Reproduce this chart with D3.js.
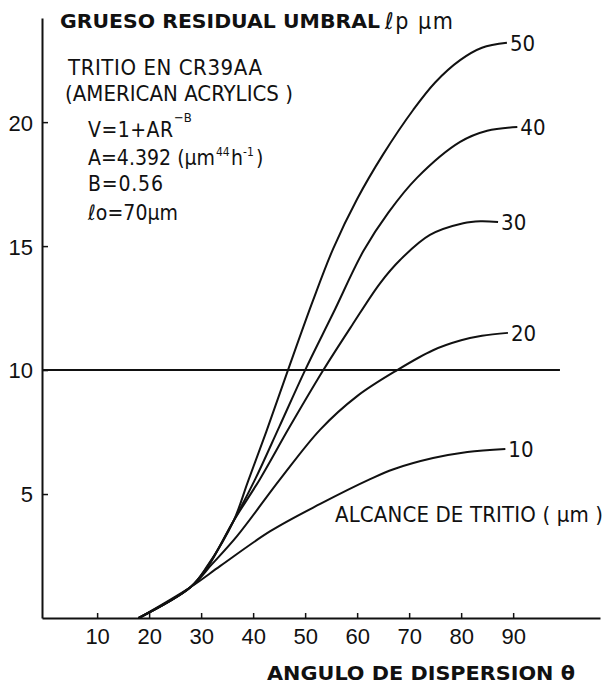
<!DOCTYPE html>
<html>
<head>
<meta charset="utf-8">
<script src="https://cdn.jsdelivr.net/npm/d3@7"></script>
<style>
  body { margin: 0; background: #fff; }
  text { font-family: "Liberation Sans Narrow", "DejaVu Sans Condensed", sans-serif; fill: #111; }
  .bold { font-family: "DejaVu Sans", sans-serif; font-weight: bold; }
</style>
</head>
<body>
<div id="chart"></div>
<script>
// alcance de tritio (um) for each curve
const ranges = [10, 20, 30, 40, 50];

// [theta, residual thickness]
const curve10 = [[18,0],[28,1.25],[33.7,2.1],[43.3,3.5],[52.9,4.6],[62.5,5.6],[67,6.0],[74.6,6.45],[81.2,6.7],[88.5,6.82]];
const curve20 = [[18,0],[28,1.25],[32,2.15],[36.9,3.3],[45.2,5.6],[52.9,7.6],[60,8.95],[67.7,10.0],[74.6,10.8],[80,11.2],[84,11.38],[89,11.5]];
const curve30 = [[18,0],[28,1.25],[31.4,2.1],[36.2,3.9],[41.3,5.6],[47,7.7],[53.5,10.0],[59,11.8],[64.4,13.5],[68.3,14.45],[74,15.45],[80.4,15.92],[83.7,16.0],[87.1,15.97]];
const curve40 = [[18,0],[28,1.25],[31.3,2.1],[36.2,3.9],[40.4,5.6],[45,7.7],[50,10.0],[55.4,12.3],[61.2,14.8],[66,16.35],[71.5,17.75],[79.8,19.2],[85,19.65],[90.8,19.8]];
const curve50 = [[18,0],[28,1.25],[31.2,2.1],[36.2,3.9],[39,5.5],[42.5,7.5],[46.7,10.0],[51.5,12.8],[55.4,14.9],[60,16.9],[65,18.7],[70.8,20.5],[75,21.6],[79.8,22.5],[84,23.0],[88.8,23.2]];

const xTicks = [10, 20, 30, 40, 50, 60, 70, 80, 90];
const yTicks = [5, 10, 15, 20];
const threshold = 10;
const thresholdEnd = 99;

const width = 609, height = 687;

const svg = d3.select('#chart')
  .append('svg')
  .attr('width', width)
  .attr('height', height);

const x = d3.scaleLinear().domain([-0.6, 106.7]).range([42, 600]);
const y = d3.scaleLinear().domain([0, 24.2]).range([618, 18]);

// axes
const xAxis = svg.append('g')
  .attr('transform', 'translate(0,618)')
  .call(d3.axisBottom(x).tickValues(xTicks).tickSizeInner(-5).tickSizeOuter(0).tickPadding(10));

const yAxis = svg.append('g')
  .attr('transform', 'translate(42,0)')
  .call(d3.axisLeft(y).tickValues(yTicks).tickSizeInner(-6).tickSizeOuter(0).tickPadding(9));

svg.selectAll('.domain').attr('stroke', '#111').attr('stroke-width', 2);
svg.selectAll('.tick line').attr('stroke', '#111').attr('stroke-width', 1.5);
svg.selectAll('.tick text').attr('font-size', 22).attr('fill', '#111')
  .style('font-family', '"Liberation Sans Narrow", sans-serif');
yAxis.selectAll('.tick text').attr('dy', '0.36em');

// threshold line
svg.append('line')
  .attr('x1', x(-0.6)).attr('x2', x(thresholdEnd))
  .attr('y1', y(threshold)).attr('y2', y(threshold))
  .attr('stroke', '#111').attr('stroke-width', 2);

// curves
const curves = [curve10, curve20, curve30, curve40, curve50];
const line = d3.line()
  .x(d => x(d[0]))
  .y(d => y(d[1]))
  .curve(d3.curveCatmullRom.alpha(0.5));

svg.append('g')
  .selectAll('path')
  .data(curves)
  .enter().append('path')
  .attr('d', line)
  .attr('fill', 'none')
  .attr('stroke', '#111')
  .attr('stroke-width', 2);

svg.append('g')
  .selectAll('text')
  .data(curves)
  .enter().append('text')
  .attr('x', d => x(d[d.length - 1][0]) + 3)
  .attr('y', d => y(d[d.length - 1][1]))
  .attr('dy', '0.36em')
  .attr('font-size', 22)
  .text((d, i) => ranges[i]);

// titles
svg.append('text').attr('class', 'bold')
  .attr('x', 60).attr('y', 28).attr('font-size', 20)
  .attr('textLength', 320).attr('lengthAdjust', 'spacingAndGlyphs')
  .text('GRUESO RESIDUAL UMBRAL');
svg.append('text').attr('x', 385).attr('y', 29).attr('font-size', 23)
  .attr('textLength', 68).attr('lengthAdjust', 'spacing')
  .text('ℓp μm');

svg.append('text').attr('class', 'bold')
  .attr('x', 267).attr('y', 680).attr('font-size', 19)
  .attr('textLength', 308).attr('lengthAdjust', 'spacingAndGlyphs')
  .text('ANGULO DE DISPERSION θ');

svg.append('text').attr('x', 335).attr('y', 522).attr('font-size', 22)
  .attr('textLength', 268).attr('lengthAdjust', 'spacing')
  .text('ALCANCE DE TRITIO ( μm )');

// annotation block
svg.append('text').attr('x', 68).attr('y', 75).attr('font-size', 22)
  .attr('textLength', 194).attr('lengthAdjust', 'spacing')
  .text('TRITIO EN CR39AA');
svg.append('text').attr('x', 65).attr('y', 101).attr('font-size', 22)
  .attr('textLength', 228).attr('lengthAdjust', 'spacing')
  .text('(AMERICAN ACRYLICS )');

svg.append('text').attr('x', 88).attr('y', 137).attr('font-size', 21)
  .attr('textLength', 85).attr('lengthAdjust', 'spacing')
  .text('V=1+AR');
svg.append('text').attr('x', 174).attr('y', 122).attr('font-size', 13).text('−B');

svg.append('text').attr('x', 88).attr('y', 165).attr('font-size', 21)
  .attr('textLength', 127).attr('lengthAdjust', 'spacing')
  .text('A=4.392 (μm');
svg.append('text').attr('x', 216).attr('y', 156).attr('font-size', 12).text('44');
svg.append('text').attr('x', 231).attr('y', 165).attr('font-size', 21).text('h');
svg.append('text').attr('x', 243).attr('y', 156).attr('font-size', 12).text('-1');
svg.append('text').attr('x', 256).attr('y', 165).attr('font-size', 21).text(')');

svg.append('text').attr('x', 88).attr('y', 191).attr('font-size', 21)
  .attr('textLength', 75).attr('lengthAdjust', 'spacing')
  .text('B=0.56');
svg.append('text').attr('x', 88).attr('y', 220).attr('font-size', 21)
  .attr('textLength', 90).attr('lengthAdjust', 'spacing')
  .text('ℓo=70μm');
</script>
</body>
</html>
